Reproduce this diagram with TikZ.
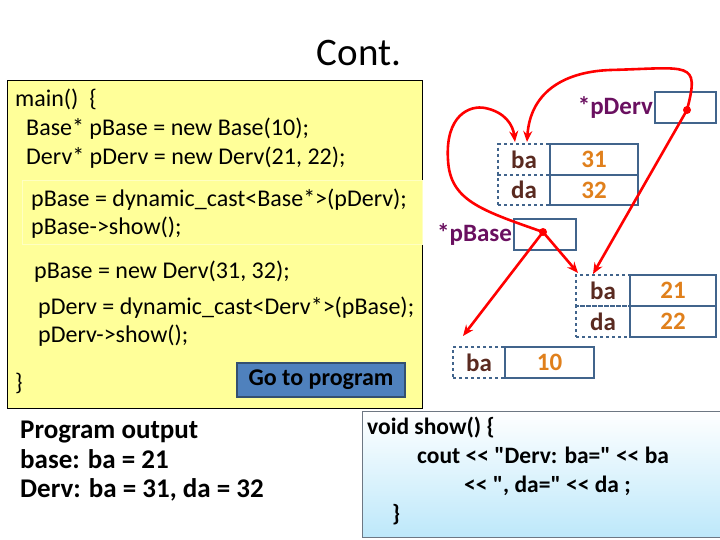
\documentclass[tikz,border=0pt]{standalone}
\usepackage{fontspec}
\setmainfont[Ligatures=TeXOff]{Carlito}
\usetikzlibrary{arrows.meta}
\definecolor{yel}{HTML}{FFFF99}
\definecolor{bord}{HTML}{41648C}
\definecolor{purp}{HTML}{6A1060}
\definecolor{brn}{HTML}{5A2A20}
\definecolor{org}{HTML}{E0801C}
\definecolor{lblue}{HTML}{BDE8FA}
\definecolor{btn}{HTML}{4F81BD}
\tikzset{
 code/.style={anchor=west,font=\fontsize{24}{24}\selectfont,inner sep=0pt},
 valbox/.style={draw=bord,line width=1.6pt},
 dbox/.style={draw=bord,line width=1.6pt,dashed},
 fld/.style={font=\bfseries\fontsize{25}{25}\selectfont,text=brn},
 val/.style={font=\bfseries\fontsize{25}{25}\selectfont,text=org},
 plbl/.style={font=\bfseries\fontsize{25}{25}\selectfont,text=purp,anchor=east,inner sep=1pt},
 ptr/.style={red,line width=2.6pt,-{Stealth[length=11pt,width=9pt]}},
 dotc/.style={circle,fill=red,inner sep=0pt,minimum size=8pt}
}
\begin{document}
\begin{tikzpicture}[x=1pt,y=-1pt]
\useasboundingbox (0,0) rectangle (720,540);
\node[font=\fontsize{39}{39}\selectfont] (title) at (359,53) {Cont.};
% yellow code box
\draw[fill=yel,line width=0.8pt] (7,80) rectangle (422,408);
\draw[white!40!yel,line width=0.6pt] (22,180) rectangle (422,244);
\node[code] (l1) at (15,99) {main()\ \ \{};
\node[code] (l2) at (26,129) {Base* pBase = new Base(10);};
\node[code] (l3) at (26,158) {Derv* pDerv = new Derv(21, 22);};
\node[code] (l4) at (31,200) {pBase = dynamic\_cast<Base*>(pDerv);};
\node[code] (l5) at (31,228) {pBase->show();};
\node[code] (l6) at (34,272) {pBase = new Derv(31, 32);};
\node[code] (l7) at (38,308) {pDerv = dynamic\_cast<Derv*>(pBase);};
\node[code] (l8) at (38,336) {pDerv->show();};
\node[code] (l9) at (15,383) {\}};
\node[draw=bord!80!black,line width=1.2pt,fill=btn,minimum width=168pt,minimum height=34pt,font=\bfseries\fontsize{24}{24}\selectfont] (go) at (321,380) {Go to program};
% program output
\node[anchor=north west,align=left,inner sep=0pt,font=\bfseries\fontsize{27}{29.5}\selectfont] (out) at (20,421) {Program output\\base: ba = 21\\Derv: ba = 31, da = 32};
% show box
\shade[top color=white,bottom color=lblue] (362,411) rectangle (720,537);
\draw[gray!70!bord,line width=0.8pt] (362,411) rectangle (720,537);
\node[anchor=north west,align=left,inner sep=0pt,font=\bfseries\fontsize{23.5}{29}\selectfont] (show) at (367,417) {void show() \{\\\hspace*{50pt}cout << "Derv: ba=" << ba\\\hspace*{97pt}<< ", da=" << da ;\\\hspace*{25pt}\}};
% memory boxes
\node[valbox,minimum width=61pt,minimum height=31pt] (pd) at (685.5,107.5) {};
\node[plbl] (pdl) at (pd.west) {*pDerv};
\node[valbox,minimum width=62pt,minimum height=31pt] (pb) at (545,234.5) {};
\node[plbl] (pbl) at (pb.west) {*pBase};
% upper object
\node[dbox,minimum width=52pt,minimum height=30.5pt] (uba) at (524,159.5) {};
\node[dbox,minimum width=52pt,minimum height=30.5pt] (uda) at (524,190) {};
\node[valbox,minimum width=88pt,minimum height=30.5pt] (uv1) at (594,159.5) {};
\node[valbox,minimum width=88pt,minimum height=30.5pt] (uv2) at (594,190) {};
\node[fld] at (uba) {ba};\node[fld] at (uda) {da};
\node[val] at (uv1) {31};\node[val] at (uv2) {32};
% lower object
\node[dbox,minimum width=54pt,minimum height=31pt] (lba) at (603,290.5) {};
\node[dbox,minimum width=54pt,minimum height=31pt] (lda) at (603,321.5) {};
\node[valbox,minimum width=86pt,minimum height=31pt] (lv1) at (673,290.5) {};
\node[valbox,minimum width=86pt,minimum height=31pt] (lv2) at (673,321.5) {};
\node[fld] at (lba) {ba};\node[fld] at (lda) {da};
\node[val] at (lv1) {21};\node[val] at (lv2) {22};
% base object
\node[dbox,minimum width=52pt,minimum height=31pt] (bba) at (479,362.5) {};
\node[valbox,minimum width=89pt,minimum height=31pt] (bv) at (549.5,362.5) {};
\node[fld] at (bba) {ba};\node[val] at (bv) {10};
% pointers
\node[dotc] (pdd) at (687,110) {};
\node[dotc] (pbd) at (543,232) {};
\coordinate (ua1) at (527,142);
\coordinate (ua2) at (515,142);
\coordinate (la) at (593,274);
\coordinate (la2) at (578,273);
\coordinate (ba) at (463,336);
\draw[ptr] (pdd.center) .. controls (700,60) and (690,68) .. (610,70) .. controls (560,72) and (530,95) .. (ua1);
\draw[ptr] (pdd.center) -- (la);
\draw[ptr] (pbd.center) .. controls (480,210) and (450,200) .. (448,160) .. controls (445,115) and (470,105) .. (485,108) .. controls (505,112) and (513,125) .. (ua2);
\draw[ptr] (pbd.center) -- (la2);
\draw[ptr] (pbd.center) -- (ba);
\end{tikzpicture}
\end{document}
